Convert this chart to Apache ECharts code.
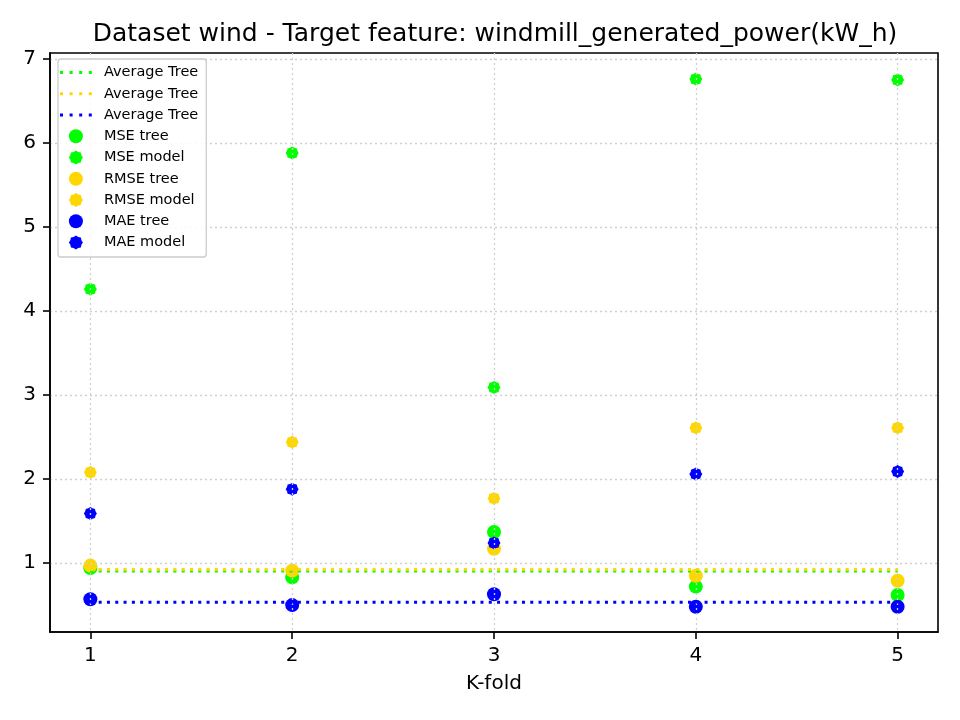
<!DOCTYPE html>
<html>
<head>
<meta charset="utf-8">
<script src="https://cdn.jsdelivr.net/npm/echarts@6/dist/echarts.min.js"></script>
<style>
  html, body { margin: 0; padding: 0; background: #fff; }
  #chart { width: 960px; height: 720px; }
</style>
</head>
<body>
<div id="chart"></div>
<script>
// values
const folds = [1, 2, 3, 4, 5];
const mseTree = [0.94, 0.83, 1.37, 0.72, 0.62];
const mseModel = [4.26, 5.88, 3.09, 6.76, 6.75];
const rmseTree = [0.97, 0.91, 1.17, 0.85, 0.79];
const rmseModel = [2.08, 2.44, 1.77, 2.61, 2.61];
const maeTree = [0.57, 0.50, 0.63, 0.48, 0.48];
const maeModel = [1.59, 1.88, 1.24, 2.06, 2.09];
const avgMse = 0.905;
const avgRmse = 0.925;
const avgMae = 0.535;
const xTicks = [1, 2, 3, 4, 5];
const yTicks = [1, 2, 3, 4, 5, 6, 7];

const GREEN = '#00ff00';
const GOLD = '#ffd700';
const BLUE = '#0000ff';
const FONT = 'DejaVu Sans';

// bumpy octagon, like the model marker in the picture
function bumpyPath() {
  let d = '';
  const n = 16;
  for (let i = 0; i < n; i++) {
    const a = (Math.PI * 2 * i) / n;
    const r = i % 2 === 0 ? 10 : 8.6;
    const x = (10 + r * Math.cos(a)).toFixed(2);
    const y = (10 + r * Math.sin(a)).toFixed(2);
    d += (i === 0 ? 'M' : 'L') + x + ' ' + y + ' ';
  }
  return 'path://' + d + 'Z';
}
const MODEL_SYMBOL = bumpyPath();

// dotted handle for the legend (4 dots across the 32x14 box)
const DOT_ICON = 'path://M0 0L0.01 0ZM0 14L0.01 14Z' +
  'M0 5.5h3v3h-3zM9.6 5.5h3v3h-3zM19.2 5.5h3v3h-3zM28.8 5.5h3v3h-3z';

const pairs = vals => folds.map((f, i) => [f, vals[i]]);

function avgLine(name, color, v) {
  return {
    name: name,
    type: 'line',
    z: 4,
    symbol: 'none',
    data: [[folds[0], v], [folds[folds.length - 1], v]],
    lineStyle: { color: color, width: 3, type: [3, 5.3], cap: 'butt' },
    itemStyle: { color: color },
    silent: true
  };
}

function scatter(name, color, vals, model) {
  return {
    name: name,
    type: 'scatter',
    z: 1,
    data: pairs(vals),
    symbol: model ? MODEL_SYMBOL : 'circle',
    symbolKeepAspect: true,
    symbolSize: model ? 13 : 14,
    itemStyle: { color: color, opacity: 1 }
  };
}

const chart = echarts.init(document.getElementById('chart'), null, { renderer: 'canvas' });

const axisCommon = {
  type: 'value',
  z: 2,
  axisLine: { show: true, lineStyle: { color: '#000', width: 1.6 } },
  axisTick: { show: true, inside: false, length: 7, lineStyle: { color: '#000', width: 1.6 } },
  axisLabel: { color: '#000', fontSize: 20, fontFamily: FONT, margin: 14 },
  splitLine: { show: true, lineStyle: { color: '#cfcfcf', width: 1.3, type: [2, 3] } }
};

chart.setOption({
  backgroundColor: '#fff',
  animation: false,
  title: {
    text: 'Dataset wind - Target feature: windmill_generated_power(kW_h)',
    left: 490,
    textAlign: 'center',
    top: 17,
    textStyle: { fontSize: 25, fontWeight: 'normal', fontFamily: FONT, color: '#000' }
  },
  grid: {
    left: 50, right: 22, top: 53, bottom: 88,
    show: true, borderColor: '#000', borderWidth: 1.6, z: 2
  },
  legend: {
    orient: 'vertical',
    left: 58,
    top: 59,
    padding: [6, 8, 7, 2],
    itemWidth: 32,
    itemHeight: 14,
    itemGap: 6.25,
    backgroundColor: 'rgba(255,255,255,0.85)',
    borderColor: '#cccccc',
    borderWidth: 1.3,
    borderRadius: 3,
    formatter: name => name.trim(),
    textStyle: { fontSize: 14.5, lineHeight: 14, fontFamily: FONT, color: '#000', padding: [0, 0, 0, 7] },
    data: [
      { name: 'Average Tree', icon: DOT_ICON },
      { name: 'Average Tree ', icon: DOT_ICON },
      { name: 'Average Tree  ', icon: DOT_ICON },
      'MSE tree', 'MSE model', 'RMSE tree', 'RMSE model', 'MAE tree', 'MAE model'
    ]
  },
  xAxis: Object.assign({}, axisCommon, {
    min: 0.8,
    max: 5.2,
    name: 'K-fold',
    nameLocation: 'middle',
    nameGap: 42,
    nameTextStyle: { fontSize: 20, fontFamily: FONT, color: '#000' },
    axisTick: Object.assign({}, axisCommon.axisTick, { customValues: xTicks }),
    axisLabel: Object.assign({}, axisCommon.axisLabel, { customValues: xTicks })
  }),
  yAxis: Object.assign({}, axisCommon, {
    min: 0.18,
    max: 7.07,
    axisTick: Object.assign({}, axisCommon.axisTick, { customValues: yTicks }),
    axisLabel: Object.assign({}, axisCommon.axisLabel, { customValues: yTicks })
  }),
  series: [
    avgLine('Average Tree', GREEN, avgMse),
    avgLine('Average Tree ', GOLD, avgRmse),
    avgLine('Average Tree  ', BLUE, avgMae),
    scatter('MSE tree', GREEN, mseTree, false),
    scatter('MSE model', GREEN, mseModel, true),
    scatter('RMSE tree', GOLD, rmseTree, false),
    scatter('RMSE model', GOLD, rmseModel, true),
    scatter('MAE tree', BLUE, maeTree, false),
    scatter('MAE model', BLUE, maeModel, true)
  ]
});
</script>
</body>
</html>
